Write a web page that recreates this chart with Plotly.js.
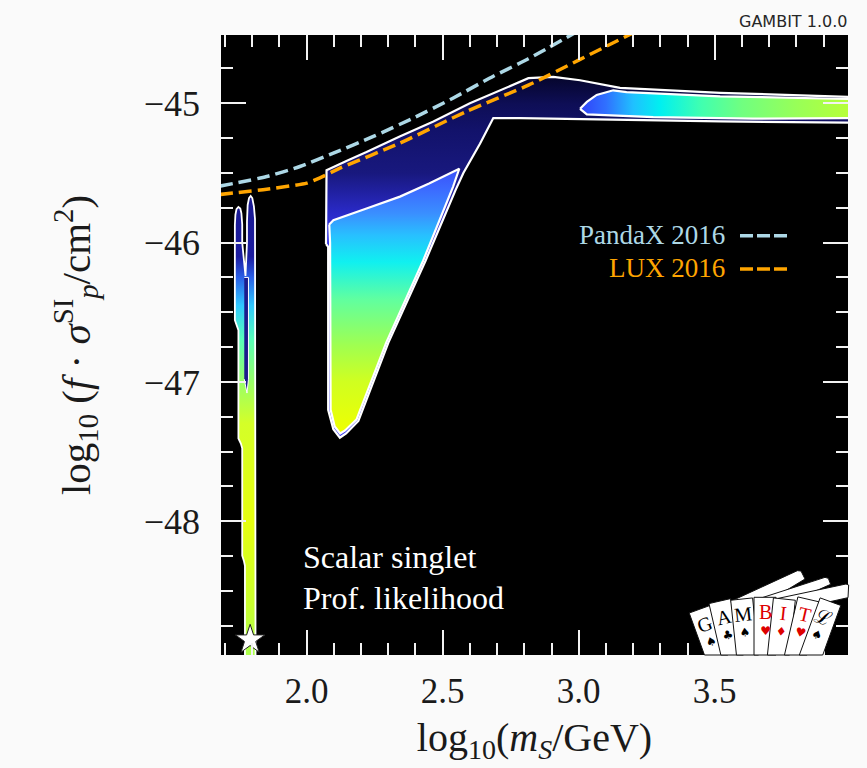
<!DOCTYPE html>
<html>
<head>
<meta charset="utf-8">
<script src="https://cdn.plot.ly/plotly-3.0.1.min.js"></script>
<style>html,body{margin:0;padding:0;background:#fafafa;}</style>
</head>
<body>
<div id="chart" style="width:867px;height:768px;"></div>
<script>
// ---------------- data ----------------
// PandaX 2016 limit: log10(m_S/GeV) vs log10(f sigma_p^SI / cm^2)
const pandaxLogM = [1.68, 1.853, 1.975, 2.098, 2.245, 2.392, 2.539, 2.686, 2.815, 2.99];
const pandaxLogSigma = [-45.595, -45.526, -45.454, -45.358, -45.238, -45.106, -44.962, -44.806, -44.681, -44.49];
// LUX 2016 limit
const luxLogM = [1.68, 1.853, 2.0, 2.049, 2.122, 2.343, 2.588, 2.815, 3.0, 3.2];
const luxLogSigma = [-45.655, -45.617, -45.573, -45.535, -45.466, -45.286, -45.058, -44.87, -44.69, -44.495];
// 2-sigma contour of the main (heavy-mass) region
const contour2sX = [2.071, 2.073, 2.15, 2.22, 2.34, 2.466, 2.6, 2.71, 2.815, 2.907, 3.005, 3.152, 3.52, 4.01, 4.01, 3.52, 3.1, 2.784, 2.686, 2.637, 2.576, 2.548, 2.437, 2.30, 2.19, 2.145, 2.122, 2.098, 2.079, 2.079, 2.071];
const contour2sY = [-46.01, -45.48, -45.41, -45.35, -45.24, -45.13, -45.0, -44.905, -44.82, -44.81, -44.835, -44.89, -44.925, -44.955, -45.14, -45.13, -45.115, -45.106, -45.106, -45.29, -45.50, -45.62, -46.13, -46.72, -47.28, -47.37, -47.40, -47.34, -47.2, -46.03, -46.01];
// 1-sigma contour, triangular part
const contour1sTriX = [2.083, 2.098, 2.22, 2.343, 2.45, 2.561, 2.538, 2.428, 2.292, 2.183, 2.14, 2.123, 2.103, 2.088, 2.086, 2.083];
const contour1sTriY = [-45.87, -45.84, -45.755, -45.67, -45.575, -45.47, -45.60, -46.13, -46.72, -47.27, -47.35, -47.37, -47.32, -47.2, -46.0, -45.87];
// 1-sigma contour, high-mass band
const contour1sBandX = [3.005, 3.03, 3.066, 3.127, 3.176, 3.52, 4.01, 4.01, 3.64, 3.274, 3.03, 3.005];
const contour1sBandY = [-45.04, -44.99, -44.94, -44.907, -44.92, -44.95, -44.97, -45.106, -45.11, -45.10, -45.08, -45.04];
// Higgs-funnel strip (m_S ~ m_h/2)
const funnelX = [1.812, 1.812, 1.810, 1.806, 1.800, 1.794, 1.788, 1.783, 1.7805, 1.7805, 1.775, 1.763, 1.763, 1.760, 1.756, 1.749, 1.742, 1.738, 1.736, 1.736, 1.744, 1.749, 1.749, 1.758, 1.763, 1.763, 1.769, 1.773, 1.773];
const funnelY = [-49.0, -45.95, -45.83, -45.74, -45.68, -45.665, -45.68, -45.73, -45.85, -46.0, -46.24, -46.0, -45.87, -45.79, -45.755, -45.744, -45.76, -45.80, -45.873, -46.557, -46.60, -46.629, -47.406, -47.442, -47.477, -48.247, -48.283, -48.319, -49.0];
const funnelCoreX = [1.7705, 1.786, 1.786, 1.7805, 1.7705];
const funnelCoreY = [-46.25, -46.25, -46.98, -47.08, -46.98];
// best-fit point
const bestFitX = [1.792];
const bestFitY = [-48.85];
// ticks
const xTickVals = [2.0, 2.5, 3.0, 3.5];
const xTickText = ['2.0', '2.5', '3.0', '3.5'];
const yTickVals = [-48, -47, -46, -45];
const yTickText = ['\u221248', '\u221247', '\u221246', '\u221245'];
// legend labels
const limitNames = ['PandaX 2016', 'LUX 2016'];
const limitColors = ['#add8e6', '#ffa500'];

// ---------------- layout helpers (pixel -> paper) ----------------
const W = 867, H = 768, ML = 221, MR = 19, MT = 35, MB = 113;
const PW = W - ML - MR, PH = H - MT - MB;
const bottomPx = H - MB;
function px2x(px) { return (px - ML) / PW; }
function px2y(py) { return (bottomPx - py) / PH; }
function pathPx(pts) {
  return 'M' + pts.map(p => px2x(p[0]).toFixed(5) + ',' + px2y(p[1]).toFixed(5)).join('L') + 'Z';
}
function cardPath(cx, cy, deg, w) {
  const t = deg * Math.PI / 180, s = Math.sin(t), c = Math.cos(t);
  const TL = [cx - w * c, cy + w * s], TR = [cx + w * c, cy - w * s];
  const BL = [TL[0] + (bottomPx - TL[1]) / c * s, bottomPx];
  const BR = [TR[0] + (bottomPx - TR[1]) / c * s, bottomPx];
  return pathPx([TL, TR, BR, BL]);
}

const serif = 'Liberation Serif, Times New Roman, serif';
const dashStyle = '13px,6px';

// ---------------- traces ----------------
const traces = [
  {
    x: contour2sX, y: contour2sY, type: 'scatter', mode: 'lines', fill: 'toself',
    line: {color: '#ffffff', width: 2.2},
    fillgradient: {type: 'vertical', start: -47.4, stop: -44.8,
      colorscale: [[0, '#3c3cf0'], [0.55, '#3636e4'], [0.62, '#2a2ac8'], [0.73, '#18187e'], [0.85, '#12126a'], [0.92, '#0e0e56'], [1, '#05052a']]},
    hoverinfo: 'skip', showlegend: false
  },
  {
    x: contour1sTriX, y: contour1sTriY, type: 'scatter', mode: 'lines', fill: 'toself',
    line: {color: '#ffffff', width: 2.2},
    fillgradient: {type: 'vertical', start: -47.38, stop: -45.47,
      colorscale: [[0, '#f0ff00'], [0.2, '#d0ff20'], [0.335, '#a0ff50'], [0.51, '#60ffa0'], [0.65, '#10f0f0'], [0.75, '#28c0ff'], [0.83, '#3a90ff'], [0.93, '#3c68ff'], [1, '#3a50f8']]},
    hoverinfo: 'skip', showlegend: false
  },
  {
    x: contour1sBandX, y: contour1sBandY, type: 'scatter', mode: 'lines', fill: 'toself',
    line: {color: '#ffffff', width: 2.2},
    fillgradient: {type: 'horizontal', start: 3.0, stop: 4.0,
      colorscale: [[0, '#3040f8'], [0.1, '#3070ff'], [0.2, '#20c0ff'], [0.3, '#00f0f0'], [0.45, '#40ffb0'], [0.6, '#70ff80'], [0.8, '#98ff58'], [1, '#b8ff38']]},
    hoverinfo: 'skip', showlegend: false
  },
  {
    x: funnelX, y: funnelY, type: 'scatter', mode: 'lines', fill: 'toself',
    line: {color: '#ffffff', width: 1.8},
    fillgradient: {type: 'vertical', start: -49.0, stop: -45.66,
      colorscale: [[0, '#a8ff50'], [0.12, '#c8ff30'], [0.3, '#e6ff10'], [0.51, '#d4ff28'], [0.6, '#98ff68'], [0.69, '#58ffb8'], [0.763, '#30c8ff'], [0.823, '#2a60e8'], [0.868, '#1c1ca0'], [1, '#181890']]},
    hoverinfo: 'skip', showlegend: false
  },
  {
    x: funnelCoreX, y: funnelCoreY, type: 'scatter', mode: 'lines', fill: 'toself',
    fillcolor: '#1c1c8c', line: {color: '#ffffff', width: 1},
    hoverinfo: 'skip', showlegend: false
  },
  {
    x: pandaxLogM, y: pandaxLogSigma, type: 'scatter', mode: 'lines', name: limitNames[0],
    line: {color: limitColors[0], width: 3.5, dash: dashStyle, shape: 'spline', smoothing: 0.6},
    showlegend: false
  },
  {
    x: luxLogM, y: luxLogSigma, type: 'scatter', mode: 'lines', name: limitNames[1],
    line: {color: limitColors[1], width: 3.5, dash: dashStyle, shape: 'spline', smoothing: 0.6},
    showlegend: false
  },
  {
    x: bestFitX, y: bestFitY, type: 'scatter', mode: 'markers', cliponaxis: false,
    marker: {symbol: 'star', size: 22, color: '#ffffff', line: {color: '#222222', width: 1}},
    showlegend: false, hoverinfo: 'skip'
  }
];

// ---------------- decorations ----------------
const shapes = [];
const annotations = [];

// legend samples
[235.7, 269].forEach((py, i) => {
  shapes.push({type: 'line', xref: 'paper', yref: 'paper', x0: px2x(740), x1: px2x(787), y0: px2y(py), y1: px2y(py),
    line: {color: limitColors[i], width: 3.5, dash: '13px,4px'}, layer: 'above'});
  annotations.push({xref: 'paper', yref: 'paper', x: px2x(727), y: px2y(py - 1), xanchor: 'right', yanchor: 'middle',
    text: limitNames[i], showarrow: false, font: {family: serif, size: 27, color: limitColors[i]}});
});

annotations.push({xref: 'paper', yref: 'paper', x: px2x(301), y: px2y(557), xanchor: 'left', yanchor: 'middle',
  text: 'Scalar singlet', showarrow: false, font: {family: serif, size: 32, color: '#ffffff'}});
annotations.push({xref: 'paper', yref: 'paper', x: px2x(301), y: px2y(598), xanchor: 'left', yanchor: 'middle',
  text: 'Prof. likelihood', showarrow: false, font: {family: serif, size: 32, color: '#ffffff'}});
annotations.push({xref: 'paper', yref: 'paper', x: px2x(849), y: px2y(21), xanchor: 'right', yanchor: 'middle',
  text: 'GAMBIT 1.0.0', showarrow: false, font: {family: 'DejaVu Sans, sans-serif', size: 16, color: '#262626'}});

// GAMBIT card logo
const backCards = [
  [[120,110],[322,17],[333,18],[345,42],[200,130]],
  [[195,105],[405,37],[415,40],[422,58],[260,130]],
  [[265,100],[468,57],[476,60],[474,98],[330,130]]
];
backCards.forEach(poly => {
  shapes.push({type: 'path', xref: 'paper', yref: 'paper', layer: 'above',
    path: pathPx(poly.map(p => [690 + p[0] / 3, 565 + p[1] / 3])),
    fillcolor: '#ffffff', line: {color: '#111111', width: 1}});
});
const cards = [
  {l: 'G', s: '\u2660', c: '#000000', ang: 20, lx: 705, ly: 624.3, sx: 708.3, sy: 640},
  {l: 'A', s: '\u2663', c: '#000000', ang: 13, lx: 723.3, ly: 616.7, sx: 726.7, sy: 633.3},
  {l: 'M', s: '\u2660', c: '#000000', ang: 6, lx: 743.3, ly: 615, sx: 745, sy: 630},
  {l: 'B', s: '\u2665', c: '#dd0000', ang: 0, lx: 765, ly: 613.3, sx: 765, sy: 626.7},
  {l: 'I', s: '\u2666', c: '#dd0000', ang: -6, lx: 782.7, ly: 615, sx: 781.7, sy: 628.3},
  {l: 'T', s: '\u2665', c: '#dd0000', ang: -13, lx: 805, ly: 615, sx: 800, sy: 630},
  {l: '\u2112', s: '\u2660', c: '#000000', ang: -20, lx: 825, ly: 616.7, sx: 816.7, sy: 635}
];
cards.forEach(cd => {
  const t = cd.ang * Math.PI / 180;
  const cx = cd.lx - 16 * Math.sin(t), cy = cd.ly - 16 * Math.cos(t);
  shapes.push({type: 'path', xref: 'paper', yref: 'paper', layer: 'above', path: cardPath(cx, cy, cd.ang, 11),
    fillcolor: '#ffffff', line: {color: '#111111', width: 1}});
  annotations.push({xref: 'paper', yref: 'paper', x: px2x((cd.lx + cd.sx) / 2), y: px2y((cd.ly + cd.sy) / 2 - 1),
    xanchor: 'center', yanchor: 'middle', showarrow: false, textangle: -cd.ang,
    text: '<span style="font-family:Liberation Serif;font-size:20px">' + cd.l + '</span><br>' + cd.s,
    font: {family: 'DejaVu Sans, sans-serif', size: 12, color: cd.c}});
});

const tickCol = '#f2f2f2';
const layout = {
  width: W, height: H,
  margin: {l: ML, r: MR, t: MT, b: MB, pad: 0},
  paper_bgcolor: '#fafafa', plot_bgcolor: '#000000',
  showlegend: false,
  xaxis: {
    range: [1.685, 3.99], tickmode: 'array', tickvals: xTickVals, ticktext: xTickText,
    ticks: 'inside', ticklen: 25, tickwidth: 2, tickcolor: tickCol, mirror: 'ticks',
    showline: false, showgrid: false, zeroline: false, layer: 'above traces',
    minor: {tickmode: 'linear', tick0: 0, dtick: 0.1, ticks: 'inside', ticklen: 12, tickwidth: 2, tickcolor: tickCol, showgrid: false},
    tickfont: {family: serif, size: 35, color: '#1a1a1a'}, ticklabelstandoff: 12,
    title: {text: 'log<sub>10</sub>(<i>m<sub>S</sub></i>/GeV)', font: {family: serif, size: 40, color: '#1a1a1a'}, standoff: 12}
  },
  yaxis: {
    range: [-48.96, -44.51], tickmode: 'array', tickvals: yTickVals, ticktext: yTickText,
    ticks: 'inside', ticklen: 25, tickwidth: 2, tickcolor: tickCol, mirror: 'ticks',
    showline: false, showgrid: false, zeroline: false, layer: 'above traces',
    minor: {tickmode: 'linear', tick0: 0, dtick: 0.25, ticks: 'inside', ticklen: 12, tickwidth: 2, tickcolor: tickCol, showgrid: false},
    tickfont: {family: serif, size: 36, color: '#1a1a1a'}, ticklabelstandoff: 20,
    title: {text: 'log<sub>10</sub> (<i>f</i> · <i>σ</i><sup>SI</sup><sub><i>p</i></sub>/cm<sup>2</sup>)', font: {family: serif, size: 41, color: '#1a1a1a'}, standoff: 40}
  },
  shapes: shapes,
  annotations: annotations
};

Plotly.newPlot('chart', traces, layout, {displayModeBar: false, staticPlot: true});
</script>
</body>
</html>
